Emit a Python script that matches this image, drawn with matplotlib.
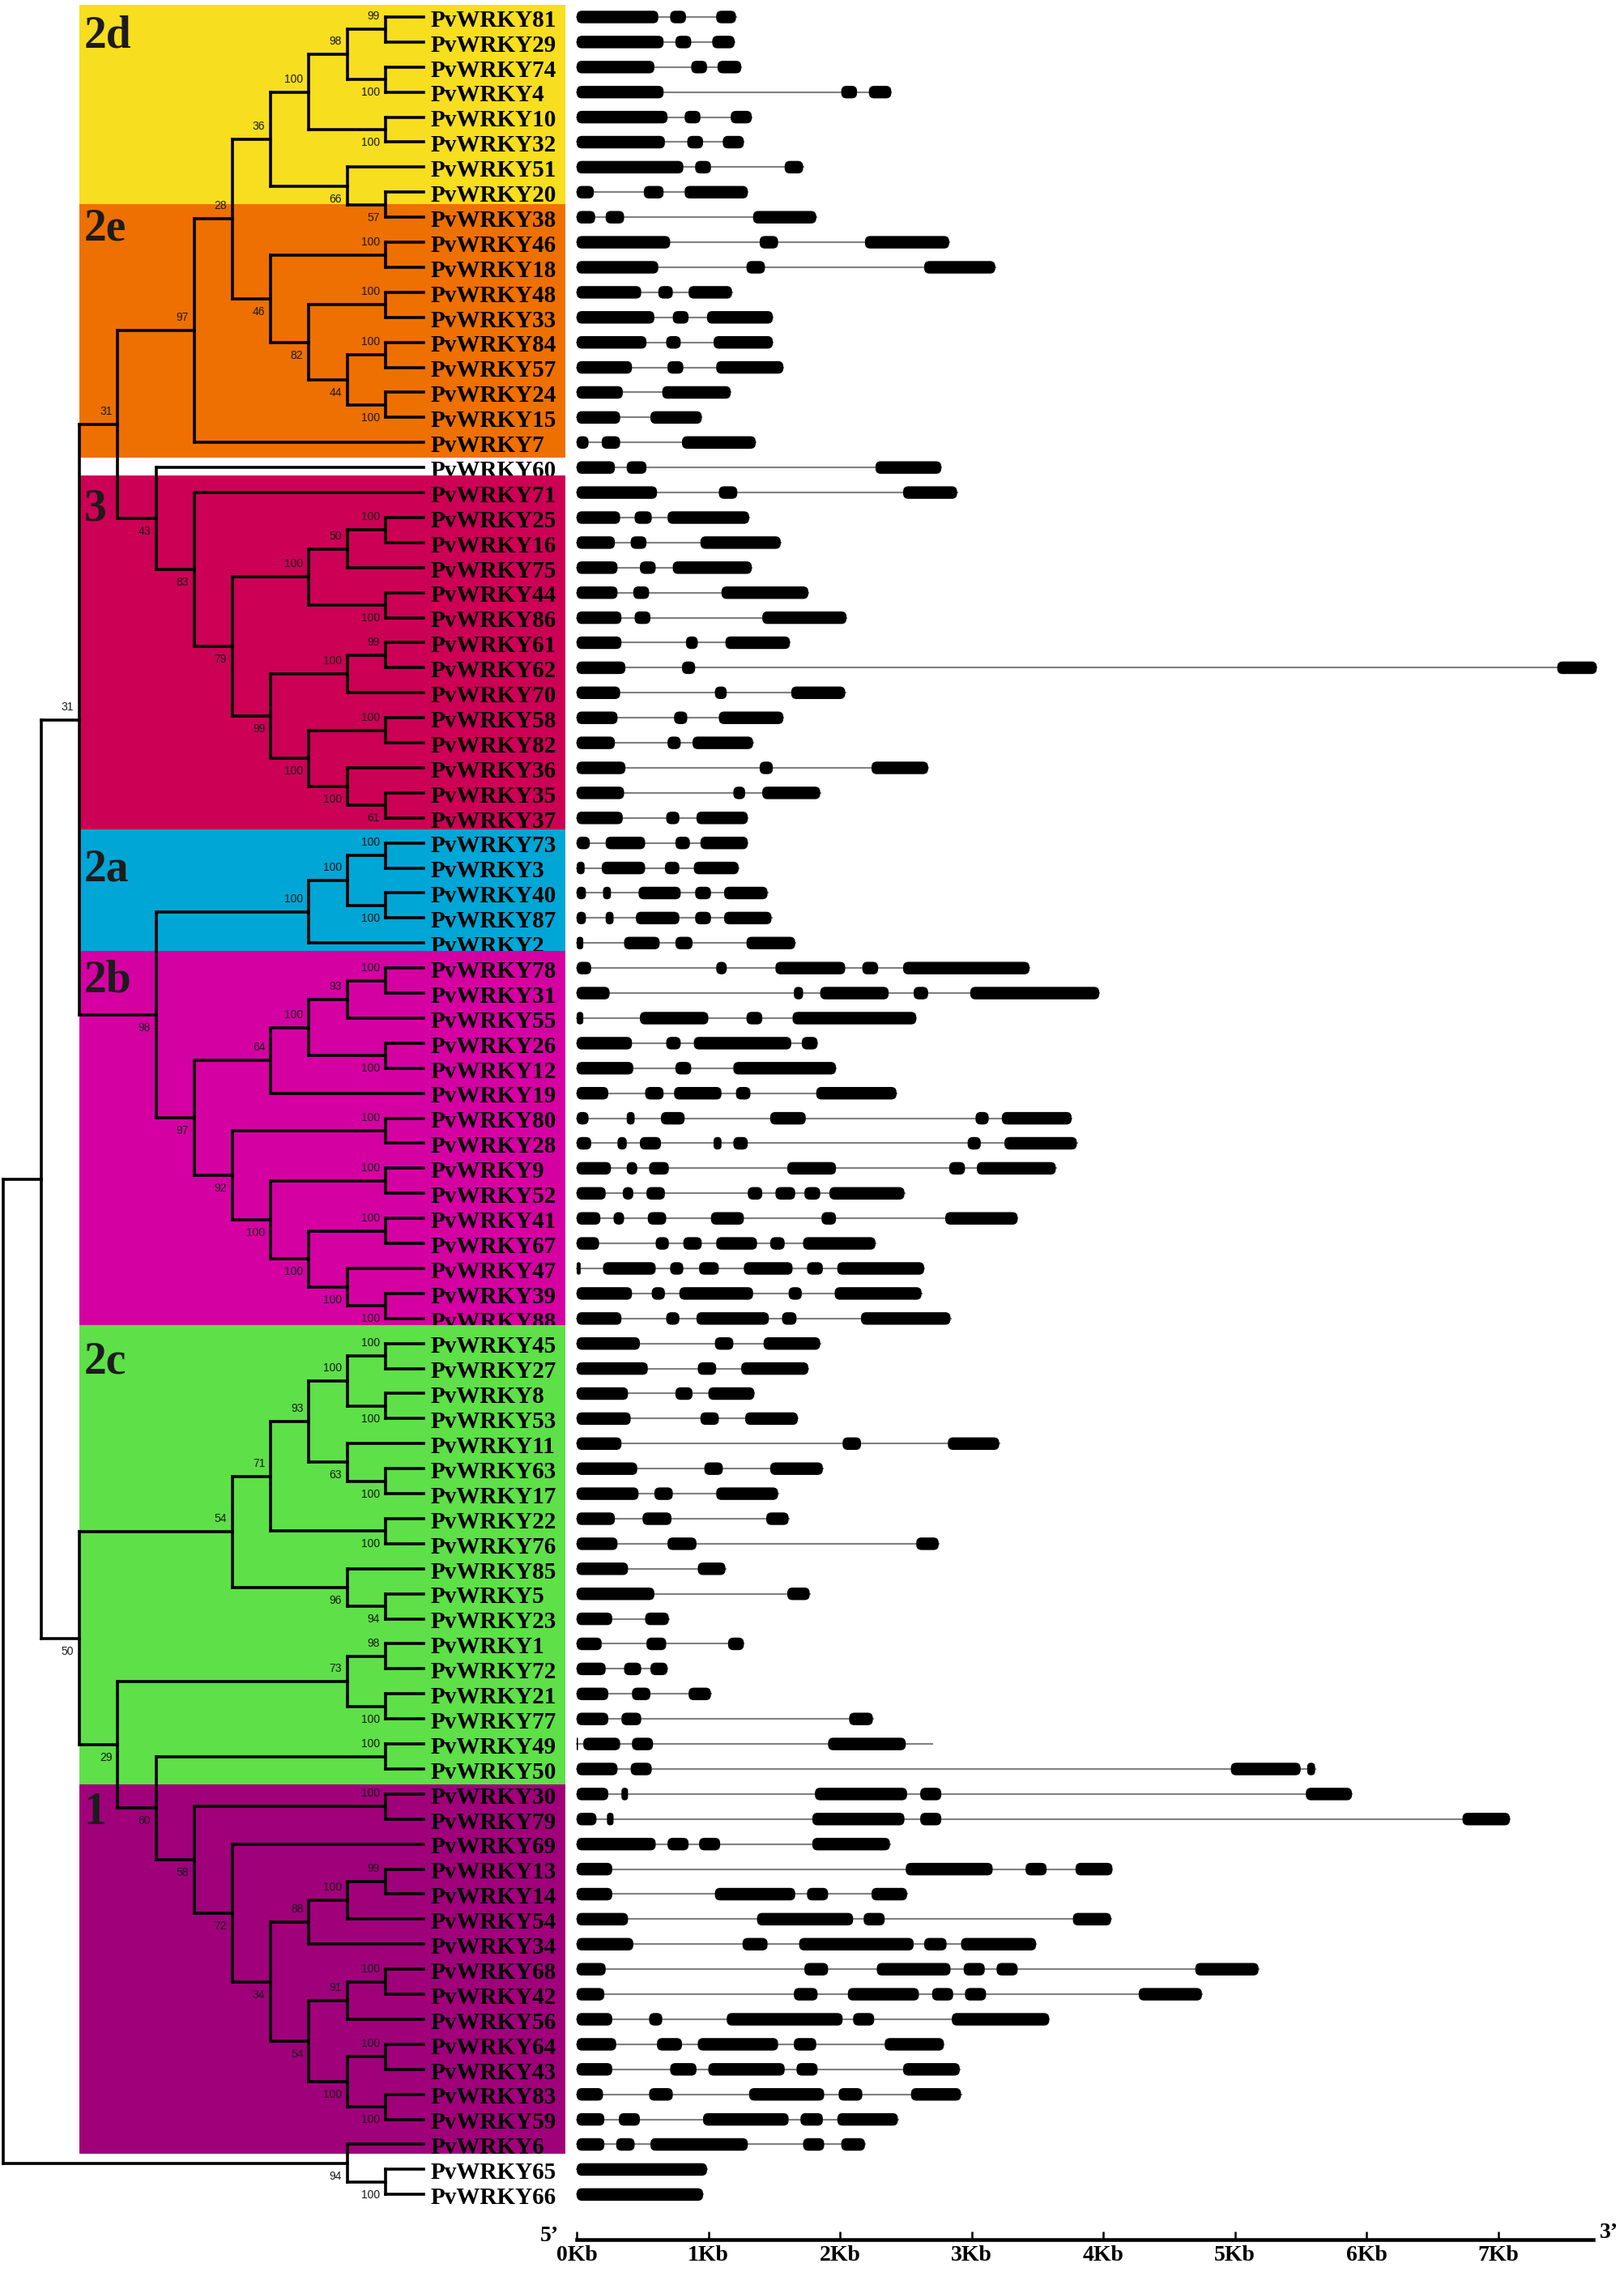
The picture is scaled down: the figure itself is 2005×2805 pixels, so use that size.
import numpy as np
import matplotlib.pyplot as plt
from matplotlib.patches import FancyBboxPatch, Rectangle

plt.rcParams['font.family'] = ['Liberation Serif', 'DejaVu Serif']

# tree (cladogram) in newick pieces, bootstrap values as internal node labels
clade_2d = "((((81,29)99,(74,4)100)98,(10,32)100)100,(51,(20,38)57)66)36"
clade_2e = "((46,18)100,((48,33)100,((84,57)100,(24,15)100)44)82)46"
clade_3 = ("((((25,16)100,75)50,(44,86)100)100,(((61,62)99,70)100,"
           "((58,82)100,(36,(35,37)61)100)100)99)79")
clade_2a = "(((73,3)100,(40,87)100)100,2)100"
clade_2b = ("(((((78,31)100,55)93,(26,12)100)100,19)64,((80,28)100,((9,52)100,"
            "((41,67)100,(47,(39,88)100)100)100)100)92)97")
clade_2c = ("(((((45,27)100,(8,53)100)100,(11,(63,17)100)63)93,(22,76)100)71,"
            "(85,(5,23)94)96)54")
clade_1 = ("((30,79)100,(69,((((13,14)99,54)100,34)88,(((68,42)100,56)91,"
           "((64,43)100,(83,59)100)100)54)34)72)58")
outgroup = "(6,(65,66)100)94"

n97 = "((%s,%s)28,7)97" % (clade_2d, clade_2e)
n43 = "(60,(71,%s)83)43" % clade_3
n31b = "((%s,%s)31,(%s,%s)98)31" % (n97, n43, clade_2a, clade_2b)
n29 = "(((1,72)98,(21,77)100)73,((49,50)100,%s)60)29" % clade_1
n50 = "(%s,%s)50" % (clade_2c, n29)
newick = "((%s,%s),%s)" % (n31b, n50, outgroup)

leaf_ids = [81, 29, 74, 4, 10, 32, 51, 20, 38, 46, 18, 48, 33, 84, 57, 24, 15, 7,
            60, 71, 25, 16, 75, 44, 86, 61, 62, 70, 58, 82, 36, 35, 37,
            73, 3, 40, 87, 2, 78, 31, 55, 26, 12, 19, 80, 28, 9, 52, 41, 67, 47, 39, 88,
            45, 27, 8, 53, 11, 63, 17, 22, 76, 85, 5, 23, 1, 72, 21, 77, 49, 50,
            30, 79, 69, 13, 14, 54, 34, 68, 42, 56, 64, 43, 83, 59, 6, 65, 66]

# exon positions (kb from 5' end)
exons = {
    81: [(0, .62), (.71, .83), (1.06, 1.21)],
    29: [(0, .66), (.75, .87), (1.03, 1.20)],
    74: [(0, .59), (.87, .99), (1.07, 1.25)],
    4: [(0, .66), (2.01, 2.13), (2.22, 2.39)],
    10: [(0, .69), (.82, .94), (1.17, 1.33)],
    32: [(0, .67), (.84, .96), (1.11, 1.27)],
    51: [(0, .81), (.90, 1.02), (1.58, 1.72)],
    20: [(0, .13), (.51, .66), (.82, 1.30)],
    38: [(0, .14), (.22, .36), (1.34, 1.82)],
    46: [(0, .71), (1.39, 1.53), (2.19, 2.83)],
    18: [(0, .62), (1.29, 1.43), (2.64, 3.18)],
    48: [(0, .49), (.62, .73), (.85, 1.18)],
    33: [(0, .59), (.73, .85), (.99, 1.49)],
    84: [(0, .53), (.68, .79), (1.04, 1.49)],
    57: [(0, .42), (.69, .81), (1.06, 1.57)],
    24: [(0, .35), (.65, 1.17)],
    15: [(0, .33), (.56, .95)],
    7: [(0, .09), (.19, .33), (.80, 1.36)],
    60: [(0, .29), (.38, .53), (2.27, 2.77)],
    71: [(0, .61), (1.08, 1.22), (2.48, 2.89)],
    25: [(0, .33), (.44, .57), (.69, 1.31)],
    16: [(0, .29), (.41, .53), (.94, 1.55)],
    75: [(0, .31), (.48, .60), (.73, 1.33)],
    44: [(0, .31), (.43, .55), (1.10, 1.76)],
    86: [(0, .34), (.44, .56), (1.41, 2.05)],
    61: [(0, .34), (.83, .92), (1.13, 1.62)],
    62: [(0, .37), (.80, .90), (7.45, 7.75)],
    70: [(0, .33), (1.05, 1.14), (1.63, 2.04)],
    58: [(0, .31), (.74, .84), (1.08, 1.57)],
    82: [(0, .29), (.69, .79), (.88, 1.34)],
    36: [(0, .37), (1.39, 1.49), (2.24, 2.67)],
    35: [(0, .36), (1.19, 1.28), (1.41, 1.85)],
    37: [(0, .35), (.68, .78), (.91, 1.30)],
    73: [(0, .10), (.22, .52), (.75, .86), (.94, 1.30)],
    3: [(0, .06), (.19, .52), (.67, .78), (.89, 1.23)],
    40: [(0, .07), (.20, .26), (.47, .79), (.90, 1.02), (1.12, 1.45)],
    87: [(0, .07), (.22, .28), (.45, .78), (.90, 1.02), (1.12, 1.48)],
    2: [(0, .05), (.36, .63), (.75, .88), (1.29, 1.66)],
    78: [(0, .11), (1.06, 1.14), (1.51, 2.04), (2.17, 2.29), (2.48, 3.44)],
    31: [(0, .25), (1.65, 1.72), (1.85, 2.37), (2.56, 2.67), (2.99, 3.97)],
    55: [(0, .05), (.48, 1.00), (1.29, 1.41), (1.64, 2.58)],
    26: [(0, .42), (.68, .79), (.89, 1.63), (1.71, 1.83)],
    12: [(0, .43), (.75, .87), (1.19, 1.97)],
    19: [(0, .24), (.52, .66), (.74, 1.10), (1.21, 1.32), (1.82, 2.43)],
    80: [(0, .09), (.38, .44), (.64, .82), (1.47, 1.74), (3.03, 3.13), (3.23, 3.76)],
    28: [(0, .11), (.31, .38), (.48, .64), (1.04, 1.10), (1.19, 1.30), (2.97, 3.07), (3.25, 3.80)],
    9: [(0, .26), (.38, .46), (.55, .70), (1.60, 1.97), (2.83, 2.95), (3.04, 3.64)],
    52: [(0, .22), (.35, .43), (.53, .67), (1.30, 1.41), (1.51, 1.66), (1.73, 1.85), (1.92, 2.49)],
    41: [(0, .18), (.28, .36), (.54, .68), (1.02, 1.27), (1.86, 1.97), (2.80, 3.35)],
    67: [(0, .17), (.60, .70), (.81, .95), (1.06, 1.37), (1.47, 1.58), (1.72, 2.27)],
    47: [(0, .03), (.20, .60), (.71, .81), (.93, 1.08), (1.27, 1.64), (1.75, 1.87), (1.98, 2.64)],
    39: [(0, .42), (.57, .67), (.78, 1.34), (1.61, 1.71), (1.96, 2.62)],
    88: [(0, .34), (.68, .78), (.91, 1.46), (1.56, 1.67), (2.16, 2.84)],
    45: [(0, .48), (1.05, 1.19), (1.42, 1.85)],
    27: [(0, .54), (.92, 1.06), (1.25, 1.76)],
    8: [(0, .39), (.75, .88), (1.00, 1.35)],
    53: [(0, .41), (.94, 1.08), (1.28, 1.68)],
    11: [(0, .34), (2.02, 2.16), (2.82, 3.21)],
    63: [(0, .46), (.97, 1.11), (1.47, 1.87)],
    17: [(0, .47), (.59, .73), (1.06, 1.53)],
    22: [(0, .29), (.50, .72), (1.44, 1.61)],
    76: [(0, .31), (.69, .91), (2.58, 2.75)],
    85: [(0, .39), (.92, 1.13)],
    5: [(0, .59), (1.60, 1.77)],
    23: [(0, .27), (.52, .70)],
    1: [(0, .19), (.53, .68), (1.15, 1.27)],
    72: [(0, .22), (.36, .49), (.56, .69)],
    21: [(0, .24), (.42, .56), (.85, 1.02)],
    77: [(0, .24), (.34, .49), (2.07, 2.25)],
    49: [(0, .01), (.05, .33), (.42, .58), (1.91, 2.50)],
    50: [(0, .31), (.41, .57), (4.97, 5.50), (5.55, 5.61)],
    30: [(0, .24), (.34, .39), (1.81, 2.51), (2.61, 2.77), (5.54, 5.89)],
    79: [(0, .15), (.23, .28), (1.79, 2.49), (2.61, 2.77), (6.73, 7.09)],
    69: [(0, .60), (.69, .85), (.93, 1.09), (1.79, 2.38)],
    13: [(0, .27), (2.50, 3.16), (3.41, 3.57), (3.79, 4.07)],
    14: [(0, .27), (1.05, 1.66), (1.75, 1.91), (2.24, 2.51)],
    54: [(0, .39), (1.37, 2.10), (2.18, 2.34), (3.77, 4.06)],
    34: [(0, .43), (1.26, 1.45), (1.69, 2.56), (2.64, 2.81), (2.92, 3.49)],
    68: [(0, .22), (1.73, 1.91), (2.28, 2.84), (2.94, 3.10), (3.19, 3.35), (4.70, 5.18)],
    42: [(0, .21), (1.65, 1.83), (2.06, 2.60), (2.70, 2.86), (2.95, 3.11), (4.27, 4.75)],
    56: [(0, .27), (.55, .65), (1.14, 2.02), (2.10, 2.26), (2.85, 3.59)],
    64: [(0, .30), (.61, .80), (.92, 1.53), (1.65, 1.82), (2.34, 2.79)],
    43: [(0, .27), (.71, .91), (1.00, 1.58), (1.67, 1.83), (2.48, 2.91)],
    83: [(0, .20), (.55, .73), (1.31, 1.88), (1.99, 2.17), (2.54, 2.92)],
    59: [(0, .21), (.32, .48), (.96, 1.61), (1.70, 1.87), (1.98, 2.44)],
    6: [(0, .21), (.30, .44), (.56, 1.30), (1.72, 1.88), (2.01, 2.19)],
    65: [(0, .99)],
    66: [(0, .96)],
}
intron_end = {49: 2.70}

group_names = ['2d', '2e', '3', '2a', '2b', '2c', '1']
group_colors = ['#F7DE1E', '#EE7000', '#CC0055', '#00A6D5', '#D500A2', '#5EE048', '#A0007A']
group_rows = [(-0.5, 7.48), (7.48, 17.6), (18.33, 32.47), (32.47, 37.33),
              (37.33, 52.27), (52.27, 70.6), (70.6, 85.37)]
group_label_rows = [1.2, 8.9, 20.1, 34.5, 38.95, 54.2, 72.2]

kb_ticks = list(range(8))
kb_labels = ['%dKb' % k for k in kb_ticks]
axis_end_kb = 7.72

# ---- layout (pixels of the 2005x2805 picture)
W, H = 2005, 2805
row0, rowh = 21, 30.9
axis_y = 2765
kb0, kbw = 712, 162.5
leaf_x, step = 523, 47.2


def parse(s):
    s = ''.join(s.split())
    pos = [0]

    def token():
        i = pos[0]
        while pos[0] < len(s) and s[pos[0]] not in ',()':
            pos[0] += 1
        return s[i:pos[0]]

    def node():
        if s[pos[0]] == '(':
            pos[0] += 1
            kids = [node()]
            while s[pos[0]] == ',':
                pos[0] += 1
                kids.append(node())
            pos[0] += 1
            return {'kids': kids, 'label': token()}
        return {'kids': [], 'label': token()}
    return node()


tree = parse(newick)
order = []


def layout(n):
    if not n['kids']:
        n['h'] = 0
        n['y'] = len(order)
        order.append(int(n['label']))
        return
    for k in n['kids']:
        layout(k)
    n['h'] = max(k['h'] for k in n['kids']) + 1
    n['y'] = (n['kids'][0]['y'] + n['kids'][-1]['y']) / 2


layout(tree)
assert order == leaf_ids

fig = plt.figure(figsize=(W / 100, H / 100), dpi=100)
ybot, ytop = (axis_y - row0) / rowh, (0 - row0) / rowh
ax_b = (H - axis_y) / H
gl_px = kb0 - 0.05 * kbw

ax = fig.add_axes([0, ax_b, gl_px / W, 1 - ax_b])
ax.set_xlim(leaf_x / step, (leaf_x - gl_px) / step)
ax.set_ylim(ybot, ytop)
ax.axis('off')

gx = fig.add_axes([gl_px / W, ax_b, 7.9 * kbw / W, 1 - ax_b])
gx.set_xlim(-0.05, 7.85)
gx.set_ylim(ybot, ytop)
gx.patch.set_alpha(0)

# coloured clade boxes
box_left = (leaf_x - 98) / step
box_right = (leaf_x - 698) / step
for k, (r0, r1) in enumerate(group_rows):
    ax.add_patch(Rectangle((box_right, r0), box_left - box_right, r1 - r0,
                           facecolor=group_colors[k], edgecolor='none', zorder=1 + 2 * k))
    ax.text((leaf_x - 104) / step, group_label_rows[k], group_names[k], fontsize=40,
            fontweight='bold', color='#1c1c1c', va='baseline', ha='left', zorder=40)

# tree
lw = 2.6


def draw(n, parent_h=None, first=True):
    x, y = n['h'], n['y']
    if parent_h is not None:
        ax.plot([parent_h, x], [y, y], color='black', lw=lw, solid_capstyle='projecting', zorder=40)
    if n['kids']:
        ax.plot([x, x], [n['kids'][0]['y'], n['kids'][-1]['y']], color='black', lw=lw,
                solid_capstyle='projecting', zorder=40)
        if n['label'] and parent_h is not None:
            ax.annotate(n['label'], (x, y), xytext=(-5, 11.5 if first else -11.5),
                        textcoords='offset points', ha='right', va='center', fontsize=10,
                        family='Liberation Sans', color='#1a1a1a', zorder=40)
        for i, k in enumerate(n['kids']):
            draw(k, x, i == 0)


draw(tree)

# leaf names
for i, gid in enumerate(leaf_ids):
    k = max(j for j, (r0, r1) in enumerate(group_rows) if r0 <= i)
    ax.text(-0.19, i + 0.38, 'PvWRKY%d' % gid, fontsize=21, fontweight='bold',
            va='baseline', ha='left', color='black', zorder=2 + 2 * k)

# gene structures
asp = kbw / rowh
eh = 0.5
for i, gid in enumerate(leaf_ids):
    ex = exons[gid]
    end = max(ex[-1][1], intron_end.get(gid, 0))
    gx.plot([ex[0][0], end], [i, i], color='#808080', lw=1.5, zorder=1)
    for s, e in ex:
        w = e - s
        r = min(6.5 / kbw, w / 2, (eh * rowh / 2) / kbw)
        gx.add_patch(FancyBboxPatch((s, i - eh / 2), w, eh,
                                    boxstyle='round,pad=0,rounding_size=%f' % r,
                                    mutation_aspect=asp, facecolor='black',
                                    edgecolor='none', zorder=2))

for side in ['top', 'left', 'right']:
    gx.spines[side].set_visible(False)
gx.spines['bottom'].set_linewidth(3.3)
gx.spines['bottom'].set_bounds(0, axis_end_kb)
gx.set_yticks([])
gx.set_xticks(kb_ticks)
gx.set_xticklabels(kb_labels, fontsize=20, fontweight='bold')
gx.tick_params(axis='x', direction='in', length=7, width=1.8, pad=5)
gx.text(-0.135, (2767 - row0) / rowh, '5\u2019', fontsize=20, fontweight='bold',
        ha='right', va='baseline')
gx.text(7.77, (2763 - row0) / rowh, '3\u2019', fontsize=20, fontweight='bold',
        ha='left', va='baseline')

fig.savefig('out.png', dpi=100)
